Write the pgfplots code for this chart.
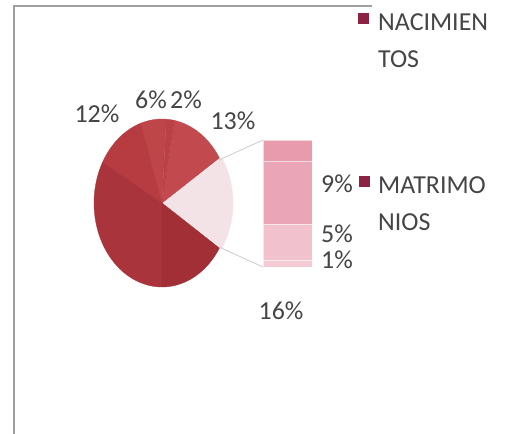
\documentclass[border=0pt]{standalone}
\usepackage{pgfplots}
\pgfplotsset{compat=1.18}
\usepackage{fontspec}
\setmainfont{Carlito}
\definecolor{txt}{HTML}{454545}
\definecolor{sA}{HTML}{C24A4E}
\definecolor{sB}{HTML}{BA4246}
\definecolor{sC}{HTML}{BE4649}
\definecolor{sD}{HTML}{B63C42}
\definecolor{sE}{HTML}{AA343B}
\definecolor{sF}{HTML}{A22F36}
\definecolor{sOther}{HTML}{F3E3E7}
\definecolor{pkA}{HTML}{E79BAD}
\definecolor{pkB}{HTML}{EAA6B6}
\definecolor{pkC}{HTML}{F1C2CE}
\definecolor{pkD}{HTML}{F4CBD5}
\definecolor{legc}{HTML}{8C2244}
\tikzset{lbl/.style={font=\fontsize{26}{30}\selectfont, text=txt, inner sep=0pt, text height=0.64em, text depth=0pt}}
\begin{document}
\begin{tikzpicture}
\useasboundingbox (0,0) rectangle (507bp,434bp);
\fill[white] (0,0) rectangle (507bp,434bp);
\begin{axis}[anchor=south west, at={(0,0)}, scale only axis,
  width=507bp, height=434bp, xmin=0, xmax=507, ymin=0, ymax=434,
  y dir=reverse, hide axis, clip=false]
% pie slices (percent: 18 other, 13, 2, 6, 12, 33, 16)
\addplot[fill=sOther, draw=sOther, line width=0.3bp, domain=-32.4:32.4, samples=40, variable=\t] ({162+71*cos(t)},{203-84*sin(t)}) -- (axis cs:162,203) -- cycle;
\addplot[fill=sA, draw=sA, line width=0.3bp, domain=32.4:79.2, samples=40, variable=\t] ({162+68*cos(t)},{203-84*sin(t)}) -- (axis cs:162,203) -- cycle;
\addplot[fill=sB, draw=sB, line width=0.3bp, domain=79.2:86.4, samples=10, variable=\t] ({162+68*cos(t)},{203-84*sin(t)}) -- (axis cs:162,203) -- cycle;
\addplot[fill=sC, draw=sC, line width=0.3bp, domain=86.4:108, samples=20, variable=\t] ({162+68*cos(t)},{203-84*sin(t)}) -- (axis cs:162,203) -- cycle;
\addplot[fill=sD, draw=sD, line width=0.3bp, domain=108:151.2, samples=30, variable=\t] ({162+68*cos(t)},{203-84*sin(t)}) -- (axis cs:162,203) -- cycle;
\addplot[fill=sE, draw=sE, line width=0.3bp, domain=151.2:270, samples=60, variable=\t] ({162+68*cos(t)},{203-84*sin(t)}) -- (axis cs:162,203) -- cycle;
\addplot[fill=sF, draw=sF, line width=0.3bp, domain=270:327.6, samples=40, variable=\t] ({162+68*cos(t)},{203-84*sin(t)}) -- (axis cs:162,203) -- cycle;
% connector lines
\addplot[draw=gray!40, line width=0.8bp] coordinates {(219,160) (263,140)};
\addplot[draw=gray!40, line width=0.8bp] coordinates {(219,247) (263,267)};
% data labels
\node[lbl] at (axis cs:97,119) {12\%};
\node[lbl] at (axis cs:151,105) {6\%};
\node[lbl] at (axis cs:186,105) {2\%};
\node[lbl] at (axis cs:233,126) {13\%};
\node[lbl] at (axis cs:337,189) {9\%};
\node[lbl] at (axis cs:337,239) {5\%};
\node[lbl] at (axis cs:337,265) {1\%};
\node[lbl] at (axis cs:281,316) {16\%};
% legend
\node[fill=legc, minimum size=11bp, inner sep=0pt] at (axis cs:363,19) {};
\node[lbl, anchor=west] at (axis cs:378,27) {NACIMIEN};
\node[lbl, anchor=west] at (axis cs:378,64) {TOS};
\node[fill=legc, minimum size=11bp, inner sep=0pt] at (axis cs:364,181) {};
\node[lbl, anchor=west] at (axis cs:378,190) {MATRIMO};
\node[lbl, anchor=west] at (axis cs:378,227) {NIOS};
% chart area border
\draw[gray!75, line width=1.6bp] (axis cs:14,434) -- (axis cs:14,6) -- (axis cs:372,6);
\end{axis}
\begin{axis}[anchor=south west, at={(263bp,167bp)}, scale only axis,
  width=49bp, height=127bp, hide axis, ybar stacked, bar width=49bp,
  xmin=-0.5, xmax=0.5, ymin=0, ymax=18]
\addplot[fill=pkD, draw=white!60!pkD] coordinates {(0,1)};
\addplot[fill=pkC, draw=white!60!pkC] coordinates {(0,5)};
\addplot[fill=pkB, draw=white!60!pkB] coordinates {(0,9)};
\addplot[fill=pkA, draw=white!60!pkA] coordinates {(0,3)};
\end{axis}
\end{tikzpicture}
\end{document}
